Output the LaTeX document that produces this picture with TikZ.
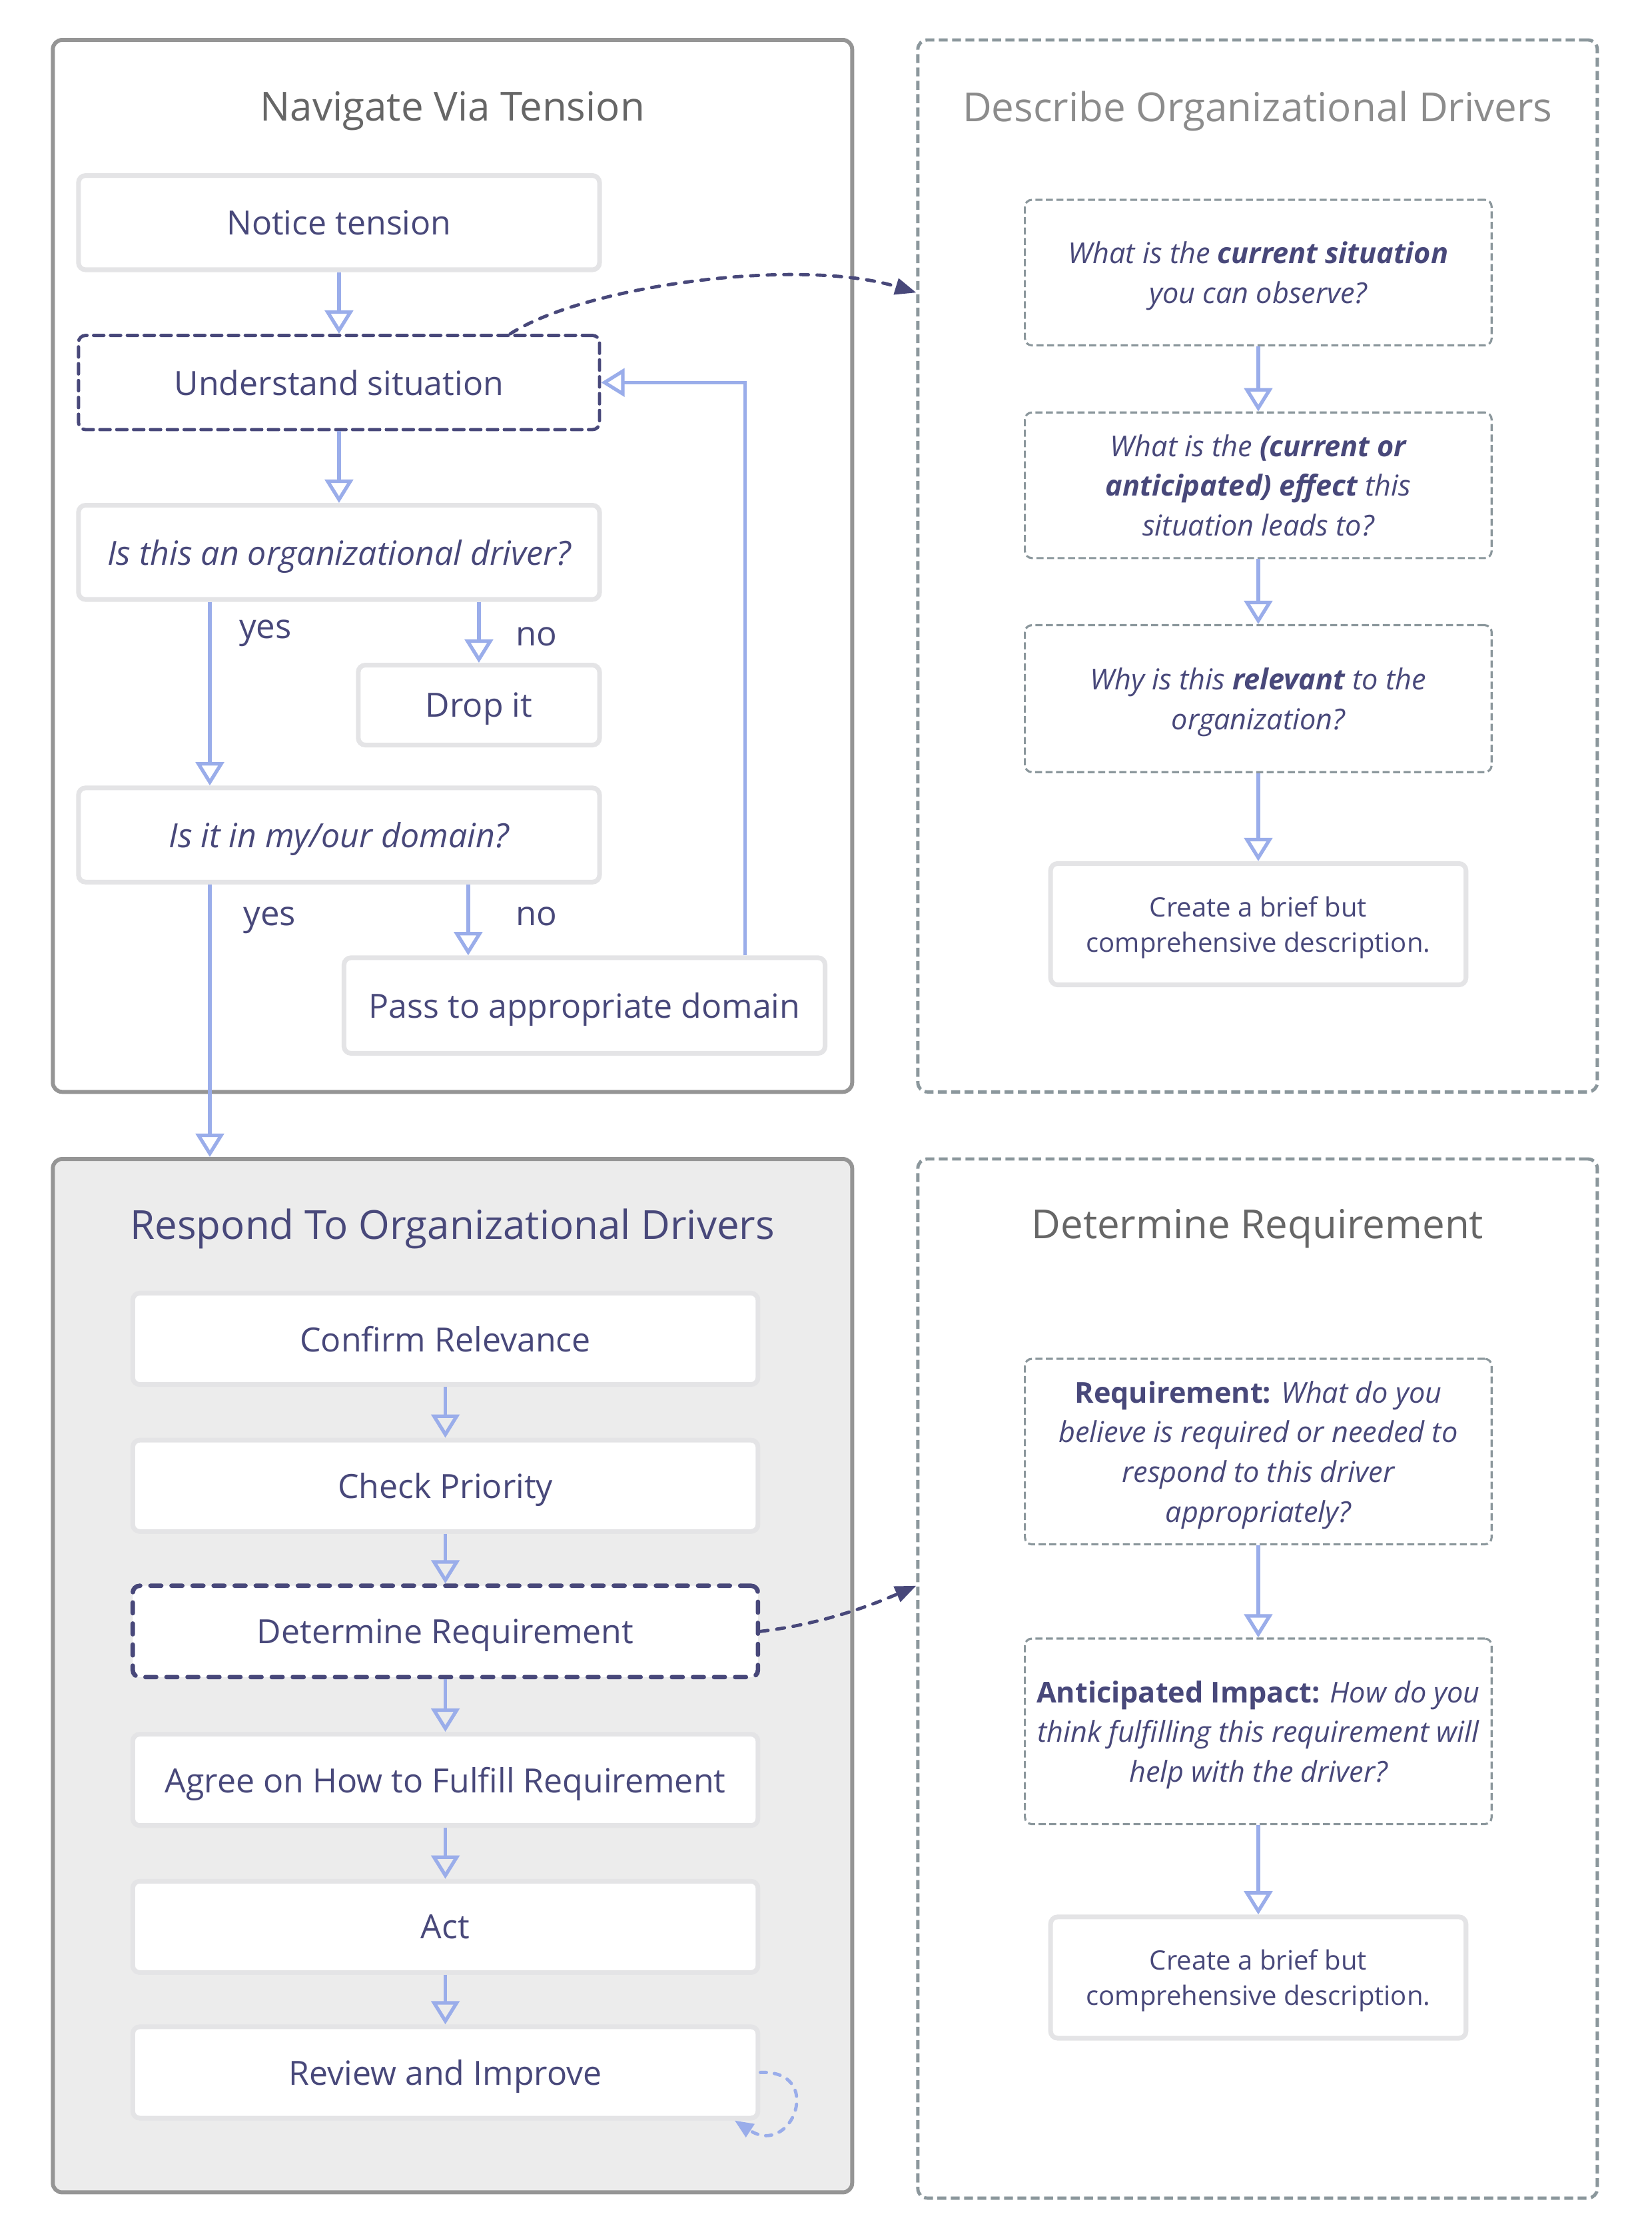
\documentclass[tikz,border=0pt]{standalone}
\usepackage{fontspec}
\setmainfont{Open Sans}
\usepackage{xcolor}
\usepackage{tikz}
\usetikzlibrary{arrows.meta}
\definecolor{cnavy}{HTML}{48487A}
\definecolor{cperi}{HTML}{9AADEA}
\definecolor{cedge}{HTML}{E4E4E6}
\definecolor{cdash}{HTML}{8B979C}
\definecolor{cframe}{HTML}{959595}
\definecolor{cfill}{HTML}{ECECEC}
\definecolor{cgrey}{HTML}{666666}
\definecolor{clight}{HTML}{8C8C8C}
\newcommand{\pxu}{0.021435cm}
\tikzset{sz/.style 2 args={minimum width=#1*\pxu,minimum height=#2*\pxu},
  box/.style={draw=cedge,line width=2pt,fill=white,rounded corners=3pt,text=cnavy,
    align=center,inner sep=0pt,text depth=0pt,font=\fontsize{14.25}{17}\selectfont},
  ital/.style={font=\fontsize{14.25}{17}\selectfont\itshape},
  dbox/.style={box,draw=cnavy,line width=1.4pt,line cap=round,dash pattern=on 4.4pt off 2.8pt},
  dboxb/.style={dbox,line width=1.9pt,dash pattern=on 4.6pt off 4.4pt},
  qbox/.style={box,draw=cdash,line width=0.9pt,dash pattern=on 3pt off 1.5pt,
    font=\fontsize{12.3}{17}\selectfont\itshape},
  note/.style={box,font=\fontsize{11.4}{15}\selectfont},
  clus/.style={draw=cframe,line width=1.7pt,rounded corners=4pt,inner sep=0pt},
  dclus/.style={draw=cdash,line width=1.4pt,dash pattern=on 3.8pt off 1.9pt,rounded corners=4pt,inner sep=0pt},
  ttl/.style={font=\fontsize{17.1}{20}\selectfont},
  lbl/.style={text=cnavy,text depth=0pt,font=\fontsize{14.5}{17}\selectfont},
  flow/.style={draw=cperi,line width=1.5pt,-{Triangle[open,length=10pt,width=12pt]}},
  link/.style={draw=cnavy,line width=1.4pt,line cap=round,dash pattern=on 3.4pt off 3.7pt,
    -{Triangle[length=9pt,width=7pt]}}}
\begin{document}
\begin{tikzpicture}[x=\pxu,y=-\pxu]
\path[fill=white,use as bounding box] (0,0) rectangle (1157,1568);
% frames
\node[clus,fill=white,sz={560}{737}] (nav) at (317,396.5) {};
\node[dclus,sz={476}{737}] (desc) at (881,396.5) {};
\node[clus,fill=cfill,sz={560}{724}] (resp) at (317,1174) {};
\node[dclus,sz={476}{728}] (detr) at (881,1176) {};
\node[ttl,text=cgrey] (navt) at (317,78) {Navigate Via Tension};
\node[ttl,text=clight] (desct) at (881,78) {Describe Organizational Drivers};
\node[ttl,text=cnavy] (respt) at (317,861) {Respond To Organizational Drivers};
\node[ttl,text=cgrey] (detrt) at (881,861) {Determine Requirement};

% navigate via tension
\coordinate (yescol) at (147,0);
\coordinate (nocol) at (328,0);
\coordinate (backcol) at (522,0);
\node[box,sz={365}{66}] (tens) at (237.5,156) {Notice tension};
\node[dbox,sz={365}{66}] (und) at (237.5,268) {Understand situation};
\node[box,ital,sz={365}{66}] (drv) at (237.5,387) {Is this an organizational driver?};
\node[box,sz={169}{56}] (drop) at (335.5,494) {Drop it};
\node[box,ital,sz={365}{66}] (dom) at (237.5,585) {Is it in my/our domain?};
\node[box,sz={337}{67}] (pass) at (409.5,704.5) {Pass to appropriate domain};
\node[lbl] (yes1) at (186,441) {yes};
\node[lbl] (no1) at (376,446) {no};
\node[lbl] (yes2) at (189,642) {yes};
\node[lbl] (no2) at (376,642) {no};
\draw[flow] (tens) -- (und);
\draw[flow] (und) -- (drv);
\draw[flow] (drv.south -| drop) -- (drop);
\draw[flow] (drv.south -| yescol) -- (dom.north -| yescol);
\draw[flow] (dom.south -| nocol) -- (pass.north -| nocol);
\draw[flow] (dom.south -| yescol) -- (resp.north -| yescol);
\draw[flow] (pass.north -| backcol) |- (und.east);

% describe organizational drivers
\node[qbox,sz={327}{102}] (q1) at (881.5,191) {What is the \textbf{current situation}\\you can observe?};
\node[qbox,sz={327}{102}] (q2) at (881.5,340) {What is the \textbf{(current or}\\\textbf{anticipated) effect} this\\situation leads to?};
\node[qbox,sz={327}{103}] (q3) at (881.5,489.5) {Why is this \textbf{relevant} to the\\organization?};
\node[note,sz={291}{85}] (brief1) at (881.5,647.5) {Create a brief but\\comprehensive description.};
\foreach \a/\b in {q1/q2,q2/q3,q3/brief1} \draw[flow] (\a) -- (\b);

% respond to organizational drivers
\foreach \nm/\y/\sty/\txt in {conf/938/box/Confirm Relevance, prio/1041/box/Check Priority,
    req/1143/dboxb/Determine Requirement, agr/1247/box/Agree on How to Fulfill Requirement,
    act/1350/box/Act, rev/1452/box/Review and Improve}
  \node[\sty,sz={438}{64}] (\nm) at (312,\y) {\txt};
\foreach \a/\b in {conf/prio,prio/req,req/agr,agr/act,act/rev} \draw[flow] (\a) -- (\b);
\draw[flow,line width=1.4pt,line cap=round,dash pattern=on 2.6pt off 3.4pt,-{Triangle[length=8pt,width=6.5pt]}]
  (rev.east) .. controls (578,1450) and (555,1512) .. ([xshift=-18*\pxu]rev.south east);

% determine requirement
\node[qbox,sz={327}{130}] (r1) at (881.5,1017) {\textbf{\upshape Requirement:} What do you\\believe is required or needed to\\respond to this driver\\appropriately?};
\node[qbox,sz={327}{130}] (r2) at (881.5,1213) {\textbf{\upshape Anticipated Impact:} How do you\\think fulfilling this requirement will\\help with the driver?};
\node[note,sz={291}{85}] (brief2) at (881.5,1385.5) {Create a brief but\\comprehensive description.};
\foreach \a/\b in {r1/r2,r2/brief2} \draw[flow] (\a) -- (\b);

% zoom-in links
\draw[link] ([xshift=120*\pxu]und.north) .. controls (410,200) and (560,180) .. ([yshift=191.5*\pxu]desc.west);
\draw[link] (req.east) .. controls (575,1138) and (610,1125) .. ([yshift=65*\pxu]detr.west);
\end{tikzpicture}
\end{document}
